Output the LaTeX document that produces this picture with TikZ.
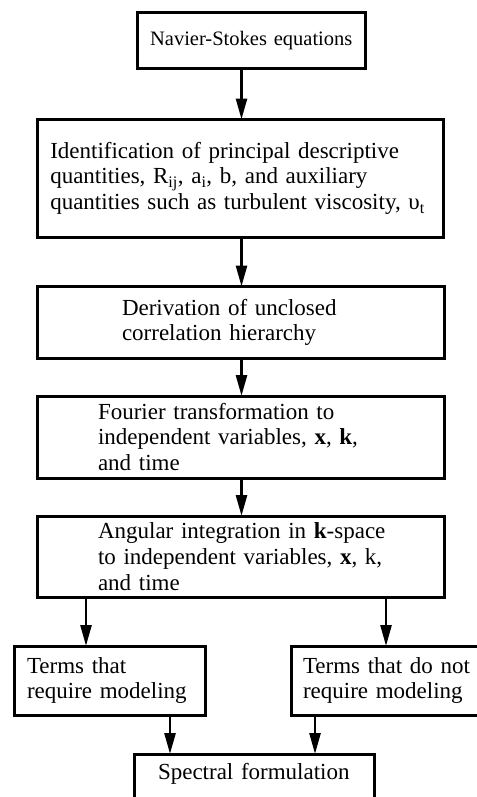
\documentclass[tikz,border=0pt]{standalone}
\usepackage{fontspec}
\setmainfont{Liberation Serif}
\usetikzlibrary{arrows.meta}
\newlength{\du}
\setlength{\du}{1bp}
\definecolor{dialinecolor}{rgb}{0.000000, 0.000000, 0.000000}
\tikzset{
  blk/.style={draw=dialinecolor, line width=3\du, rectangle, inner sep=0pt, outer sep=0pt,
    anchor=north west, align=left, font=\fontsize{23bp}{25.7bp}\selectfont},
  flow/.style={draw=dialinecolor, line width=2.6\du, -{Triangle[length=21bp,width=11bp]}}
}
\begin{document}
\begin{tikzpicture}
\pgftransformxscale{1.000000}
\pgftransformyscale{-1.000000}
\useasboundingbox (0\du,0\du) rectangle (477\du,797\du);
\clip (0\du,0\du) rectangle (477\du,797\du);
% boxes
\node[blk, align=center, minimum width=227.500000\du, minimum height=56.000000\du, text width=225.000000\du,
  font=\fontsize{20.5bp}{24bp}\selectfont] (nse) at (137.500000\du,13.000000\du) {Navier-Stokes equations};
\node[blk, minimum width=405.500000\du, minimum height=117.500000\du, text width=380.000000\du] (ident) at (37.500000\du,119.500000\du)
  {Identification of principal descriptive\\quantities, R\textsubscript{ij}, a\textsubscript{i}, b, and auxiliary\\quantities such as turbulent viscosity, υ\textsubscript{t}};
\node[blk, minimum width=406.500000\du, minimum height=71.500000\du, text width=237.500000\du] (deriv) at (37.500000\du,286.500000\du)
  {Derivation of unclosed\\correlation hierarchy};
\node[blk, minimum width=406.500000\du, minimum height=82.000000\du, text width=285.500000\du] (fourier) at (37.500000\du,396.000000\du)
  {Fourier transformation to\\independent variables, \textbf{x}, \textbf{k},\\and time};
\node[blk, minimum width=406.500000\du, minimum height=81.000000\du, text width=285.500000\du] (angular) at (37.500000\du,516.000000\du)
  {\mbox{Angular integration in \textbf{k}-space}\\to independent variables, \textbf{x}, k,\\and time};
\node[blk, minimum width=191.000000\du, minimum height=69.000000\du, text width=165.000000\du] (model) at (14.000000\du,646.000000\du)
  {Terms that\\require modeling};
\node[blk, minimum width=200.000000\du, minimum height=69.000000\du, text width=176.000000\du] (nomodel) at (291.000000\du,646.000000\du)
  {Terms that do not\\require modeling};
\node[blk, minimum width=240.000000\du, text width=192.000000\du, text height=25.000000\du, text depth=70.000000\du] (spectral) at (134.000000\du,754.000000\du)
  {Spectral formulation};
% arrow columns
\coordinate (ax) at (241.500000\du,0\du);
\coordinate (al) at (86.000000\du,0\du);
\coordinate (ar) at (386.000000\du,0\du);
\coordinate (bl) at (170.000000\du,0\du);
\coordinate (br) at (315.000000\du,0\du);
% arrows
\draw[flow] (nse.south -| ax) -- (ident.north -| ax);
\draw[flow] (ident.south -| ax) -- (deriv.north -| ax);
\draw[flow] (deriv.south -| ax) -- (fourier.north -| ax);
\draw[flow] (fourier.south -| ax) -- (angular.north -| ax);
\draw[flow] (angular.south -| al) -- (model.north -| al);
\draw[flow] (angular.south -| ar) -- (nomodel.north -| ar);
\draw[flow] (model.south -| bl) -- (spectral.north -| bl);
\draw[flow] (nomodel.south -| br) -- (spectral.north -| br);
\end{tikzpicture}
\end{document}
